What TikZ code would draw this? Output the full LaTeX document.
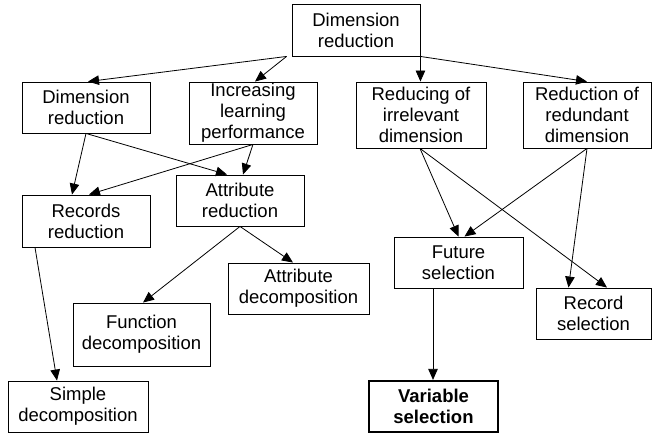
\documentclass[tikz,border=0pt]{standalone}
\usepackage{fontspec}
\setmainfont{Liberation Sans}
\usetikzlibrary{arrows.meta}
\begin{document}
\begin{tikzpicture}[x=1pt,y=-1pt,
  box/.style={draw=black,line width=0.9pt,inner sep=0pt,align=center,
    font=\fontsize{18.5}{21}\selectfont},
  boldbox/.style={box,line width=2.2pt,font=\fontsize{18.5}{21}\selectfont\bfseries},
  arr/.style={line width=0.8pt,-{Triangle[length=11pt,width=9.5pt]}}]
\useasboundingbox (0,0) rectangle (653,433);
\node[box,minimum width=128,minimum height=52] (top) at (356,30) {Dimension\\reduction};
\node[box,minimum width=128,minimum height=51] (dr) at (86,107.5) {Dimension\\reduction};
\node[box,minimum width=128,minimum height=62] (inc) at (253,113) {Increasing\\learning\\performance};
\node[box,minimum width=130,minimum height=66] (irr) at (421,115) {Reducing of\\irrelevant\\dimension};
\node[box,minimum width=128,minimum height=66] (red) at (587,115) {Reduction of\\redundant\\dimension};
\node[box,minimum width=128,minimum height=52] (rec) at (86,221) {Records\\reduction};
\node[box,minimum width=128,minimum height=51] (attr) at (240,200.5) {Attribute\\reduction};
\node[box,minimum width=141,minimum height=51] (adec) at (298.5,288.5) {Attribute\\decomposition};
\node[box,minimum width=137,minimum height=63] (fdec) at (141.5,334.5) {Function\\decomposition};
\node[box,minimum width=140,minimum height=51] (sdec) at (78,406.5) {Simple\\decomposition};
\node[box,minimum width=129,minimum height=51] (fut) at (458.5,262.5) {Future\\selection};
\node[box,minimum width=115,minimum height=51] (rsel) at (593.5,313.5) {Record\\selection};
\node[boldbox,minimum width=129,minimum height=51] (vsel) at (433.5,406.5) {Variable\\selection};

\draw[arr] ([xshift=-5]top.south west) -- ([xshift=2]dr.north);
\draw[arr] ([xshift=-5]top.south west) -- ([xshift=2]inc.north);
\draw[arr] (top.south east) -- (top.south east |- irr.north);
\draw[arr] (top.south east) -- (red.north);
\draw[arr] (dr.south) -- ([xshift=-14]rec.north);
\draw[arr] (dr.south) -- ([xshift=-13]attr.north);
\draw[arr] (inc.south) -- ([xshift=3]rec.north);
\draw[arr] (inc.south) -- ([xshift=3]attr.north);
\draw[arr] ([xshift=-51]rec.south) -- ([xshift=-21]sdec.north);
\draw[arr] (attr.south) -- ([xshift=1.5]fdec.north);
\draw[arr] (attr.south) -- ([xshift=-5.5]adec.north);
\draw[arr] ([xshift=-1]irr.south) -- (fut.north);
\draw[arr] ([xshift=-1]irr.south) -- ([xshift=13.5]rsel.north);
\draw[arr] (red.south) -- ([xshift=6]fut.north);
\draw[arr] (red.south) -- ([xshift=-25]rsel.north);
\draw[arr] ([xshift=-25.5]fut.south) -- ([xshift=-25.5]fut.south |- vsel.north);
\end{tikzpicture}
\end{document}
